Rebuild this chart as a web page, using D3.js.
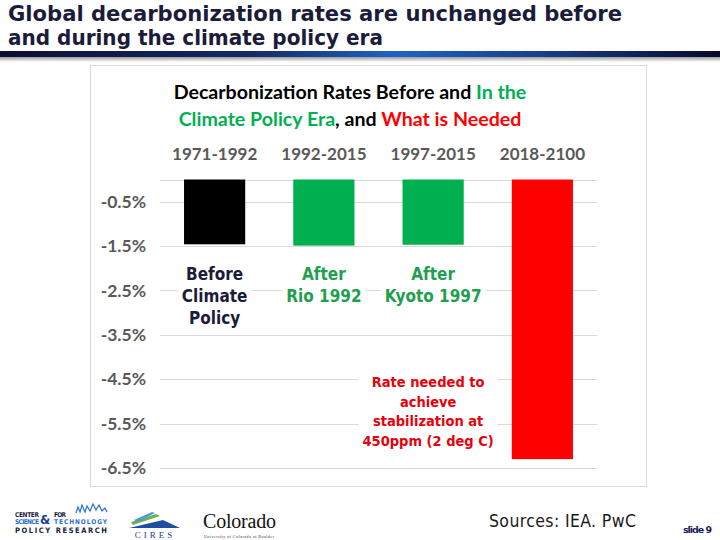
<!DOCTYPE html>
<html><head><meta charset="utf-8">
<script src="https://cdn.jsdelivr.net/npm/d3@7"></script>
<style>html,body{margin:0;padding:0;background:#fff;}svg{display:block;}</style>
</head><body>
<script>
// ---- data ----
const categories = ["1971-1992", "1992-2015", "1997-2015", "2018-2100"];
const rates = [-1.46, -1.49, -1.47, -6.3];
const barColors = ["#000000", "#00b050", "#00b050", "#ff0000"];
const yTicks = [-0.5, -1.5, -2.5, -3.5, -4.5, -5.5, -6.5];
const annoLines = [
  ["Before", "Climate", "Policy"],
  ["After", "Rio 1992"],
  ["After", "Kyoto 1997"],
  ["Rate needed to", "achieve", "stabilization at", "450ppm (2 deg C)"]
];
const annoColors = ["#1b1b3a", "#1fa04f", "#1fa04f", "#e8000b"];
const slideTitle = ["Global decarbonization rates are unchanged before", "and during the climate policy era"];
const chartTitle1 = [["Decarbonization Rates Before and ", "#000"], ["In the", "#00b050"]];
const chartTitle2 = [["Climate Policy Era", "#00b050"], [", and ", "#000"], ["What is Needed", "#ff0000"]];

const W = 720, H = 540;
const svg = d3.select("body").append("svg").attr("width", W).attr("height", H);
const defs = svg.append("defs");

// slide title
const titleFont = "'DejaVu Sans Condensed','DejaVu Sans',Verdana,sans-serif";
slideTitle.forEach((t, i) => {
  svg.append("text").attr("x", 8).attr("y", 21 + i * 24)
    .attr("font-family", titleFont).attr("font-weight", "bold").attr("font-size", 20.5)
    .attr("fill", "#1b1b3a").attr("textLength", i === 0 ? 614 : 375).attr("lengthAdjust", "spacingAndGlyphs")
    .text(t);
});
// title rule with shadow
const g1 = defs.append("linearGradient").attr("id", "rule");
g1.append("stop").attr("offset", "0%").attr("stop-color", "#0d0d33");
g1.append("stop").attr("offset", "35%").attr("stop-color", "#142a66");
g1.append("stop").attr("offset", "55%").attr("stop-color", "#1f63c6");
g1.append("stop").attr("offset", "75%").attr("stop-color", "#163f8c");
g1.append("stop").attr("offset", "100%").attr("stop-color", "#08082a");
const sh = defs.append("linearGradient").attr("id", "shadow").attr("x1", 0).attr("x2", 0).attr("y1", 0).attr("y2", 1);
sh.append("stop").attr("offset", "0%").attr("stop-color", "#888");
sh.append("stop").attr("offset", "100%").attr("stop-color", "#fff");
svg.append("rect").attr("x", 0).attr("y", 56).attr("width", W).attr("height", 6).attr("fill", "url(#shadow)");
svg.append("rect").attr("x", 0).attr("y", 51).attr("width", W).attr("height", 6).attr("fill", "url(#rule)");

// chart box
svg.append("rect").attr("x", 90.5).attr("y", 65.5).attr("width", 556).attr("height", 421)
  .attr("fill", "#fff").attr("stroke", "#d9d9d9").attr("stroke-width", 1);

// chart title
const ctFont = "Lato,'Open Sans',sans-serif";
[chartTitle1, chartTitle2].forEach((parts, i) => {
  const t = svg.append("text").attr("x", 350).attr("y", 99 + i * 27).attr("text-anchor", "middle")
    .attr("font-family", ctFont).attr("font-weight", "bold").attr("font-size", 19.6);
  parts.forEach(p => t.append("tspan").attr("fill", p[1]).text(p[0]));
});

// scales
const x = d3.scaleBand().domain(categories).range([160, 597]).paddingInner(0.44).paddingOuter(0.22);
const y = d3.scaleLinear().domain([0, -6.5]).range([179.5, 468]);

// gridlines
const grid = svg.append("g");
grid.selectAll("line").data([0].concat(yTicks)).join("line")
  .attr("x1", 160).attr("x2", 597)
  .attr("y1", d => Math.round(y(d)) + 0.5).attr("y2", d => Math.round(y(d)) + 0.5)
  .attr("stroke", "#d9d9d9").attr("stroke-width", 1);

// y axis labels
const yAxis = d3.axisLeft(y).tickValues(yTicks).tickSize(0).tickPadding(0)
  .tickFormat(d => d.toFixed(1) + "%");
const ya = svg.append("g").attr("transform", "translate(146,0)").call(yAxis);
ya.select(".domain").remove();
ya.selectAll("text").attr("font-family", ctFont).attr("font-weight", "bold").attr("font-size", 17.5).attr("fill", "#595959");

// category labels (top)
const xAxis = d3.axisTop(x).tickSize(0).tickPadding(0);
const xa = svg.append("g").attr("transform", "translate(0,160)").call(xAxis);
xa.select(".domain").remove();
xa.selectAll("text").attr("font-family", ctFont).attr("font-weight", "bold").attr("font-size", 17).attr("fill", "#595959");

// bars
svg.append("g").selectAll("rect").data(rates).join("rect")
  .attr("x", (d, i) => x(categories[i])).attr("width", x.bandwidth())
  .attr("y", y(0)).attr("height", d => y(d) - y(0))
  .attr("fill", (d, i) => barColors[i]);

// annotations
const annoFont = "'DejaVu Sans Condensed','DejaVu Sans',Tahoma,sans-serif";
annoLines.forEach((lines, i) => {
  const big = i < 3;
  const cx = x(categories[i < 3 ? i : 2]) + x.bandwidth() / 2 + (big ? 0 : -5);
  const lh = big ? 22 : 19.5;
  const y0 = big ? 280 : 387;
  const fs = big ? 17 : 14.5;
  const g = svg.append("g");
  const texts = lines.map((l, j) => g.append("text").attr("x", cx).attr("y", y0 + j * lh)
    .attr("text-anchor", "middle").attr("font-family", annoFont).attr("font-weight", "bold")
    .attr("font-size", fs).attr("fill", annoColors[i]).text(l));
  let wmax = 0;
  texts.forEach(t => { wmax = Math.max(wmax, t.node().getComputedTextLength()); });
  g.insert("rect", "text").attr("x", cx - wmax / 2 - 4).attr("y", y0 - fs - 2)
    .attr("width", wmax + 8).attr("height", lh * (lines.length - 1) + fs + 8).attr("fill", "#fff");
});

// footer
svg.append("text").attr("x", 489).attr("y", 527).attr("font-family", "'DejaVu Sans Condensed','DejaVu Sans',sans-serif")
  .attr("font-size", 17.5).attr("textLength", 147).attr("fill", "#1a1a1a").text("Sources: IEA. PwC");
svg.append("text").attr("x", 683).attr("y", 533).attr("font-family", "'DejaVu Sans',sans-serif")
  .attr("font-weight", "bold").attr("font-size", 9.5).attr("textLength", 29).attr("fill", "#1b1b5a").text("slide 9");

// logos (approximations)
const lg = svg.append("g").attr("font-family", "'DejaVu Sans Condensed','DejaVu Sans',sans-serif").attr("font-weight", "bold");
lg.append("text").attr("x", 15).attr("y", 517).attr("font-size", 6.5).attr("textLength", 24).attr("fill", "#1b1b3a").text("CENTER");
lg.append("text").attr("x", 54).attr("y", 517).attr("font-size", 6.5).attr("textLength", 12).attr("fill", "#1b1b3a").text("FOR");
lg.append("text").attr("x", 15).attr("y", 524).attr("font-size", 6.5).attr("textLength", 24).attr("fill", "#2a6fd6").text("SCIENCE");
lg.append("text").attr("x", 54).attr("y", 524).attr("font-size", 6.5).attr("textLength", 53).attr("fill", "#2a6fd6").text("TECHNOLOGY");
lg.append("text").attr("x", 40).attr("y", 524).attr("font-size", 13).attr("textLength", 13).attr("fill", "#1b3a8c").text("&");
lg.append("text").attr("x", 15).attr("y", 533).attr("font-size", 7.5).attr("textLength", 92).attr("fill", "#1b1b3a").text("POLICY RESEARCH");
lg.append("path").attr("d", "M76,513 L78,507 L80,512 L82,505 L85,512 L87,506 L90,511 L93,504 L96,510 L99,505 L102,511 L105,508 L107,512")
  .attr("fill", "none").attr("stroke", "#2a6fd6").attr("stroke-width", 1.2);
lg.append("path").attr("d", "M129,528 L163,520 L180,528 Z").attr("fill", "#1f4fa0");
lg.append("path").attr("d", "M131,522 L156,514 L160,516 L133,525 Z").attr("fill", "#6fb24a");
lg.append("path").attr("d", "M134,520 L152,512 L155,513 L137,522 Z").attr("fill", "#4a9ad6");
lg.append("text").attr("x", 155).attr("y", 538).attr("text-anchor", "middle").attr("font-family", "'Liberation Serif',serif")
  .attr("font-weight", "normal").attr("font-size", 9).attr("letter-spacing", 3).attr("fill", "#1b3a8c").text("CIRES");
lg.append("text").attr("x", 203).attr("y", 528).attr("font-family", "'Liberation Serif',serif").attr("font-weight", "normal")
  .attr("font-size", 20).attr("textLength", 73).attr("fill", "#111").text("Colorado");
lg.append("text").attr("x", 204).attr("y", 538).attr("font-family", "'Liberation Serif',serif").attr("font-weight", "normal")
  .attr("font-size", 4).attr("textLength", 70).attr("fill", "#333").text("University of Colorado at Boulder");
</script>
</body></html>
